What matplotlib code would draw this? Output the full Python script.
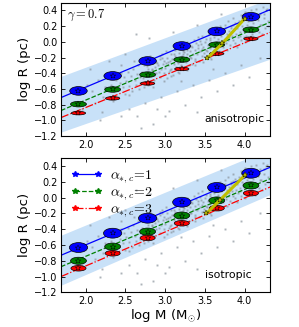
import matplotlib
matplotlib.use("Agg")
import matplotlib.pyplot as plt
from matplotlib.patches import Ellipse

plt.rcParams['mathtext.fontset'] = 'cm'
plt.rcParams['xtick.direction'] = 'in'
plt.rcParams['ytick.direction'] = 'in'
plt.rcParams['xtick.top'] = True
plt.rcParams['ytick.right'] = True

# cluster mass bins (log M) and model radii
mass = [1.91, 2.34, 2.78, 3.21, 3.65, 4.08]

aniso_r1 = [-0.625, -0.434, -0.244, -0.053, 0.133, 0.32]
aniso_r2 = [-0.794, -0.607, -0.417, -0.226, -0.036, 0.155]
aniso_r3 = [-0.908, -0.72, -0.53, -0.345, -0.15, 0.04]

iso_r1 = [-0.632, -0.45, -0.26, -0.057, 0.13, 0.31]
iso_r2 = [-0.80, -0.62, -0.43, -0.226, -0.035, 0.155]
iso_r3 = [-0.895, -0.705, -0.51, -0.324, -0.133, 0.057]

# ellipse sizes (width in log M, height in log R)
aniso_size = [(0.22, 0.11), (0.20, 0.07), (0.18, 0.045)]
iso_size = [(0.23, 0.125), (0.20, 0.09), (0.19, 0.07)]

# fitted relations (end points)
fit_x = [1.69, 4.32]
aniso_fit1 = [-0.71, 0.41]
aniso_fit2 = [-0.875, 0.25]
aniso_fit3 = [-0.965, 0.12]
iso_fit1 = [-0.73, 0.385]
iso_fit2 = [-0.875, 0.24]
iso_fit3 = [-1.0, 0.135]

# observed band
aniso_band_lo = [-1.15, -0.22]
aniso_band_hi = [-0.44, 0.55]
iso_band_lo = [-1.11, 0.04]
iso_band_hi = [-0.476, 0.62]

# evolution track (yellow)
aniso_track_x = [3.53, 3.72, 4.0]
aniso_track_y = [-0.21, -0.02, 0.295]
iso_track_x = [3.52, 3.69, 4.01]
iso_track_y = [-0.20, -0.03, 0.29]

# catalogue clusters
pts_x = [2.02, 2.08, 2.15, 2.22, 2.25, 2.12, 2.28, 1.95, 2.18, 2.05,
         2.32, 2.36, 2.38, 2.41, 2.43, 2.45, 2.47, 2.49, 2.34, 2.44, 2.48,
         2.51, 2.53, 2.55, 2.57, 2.58, 2.60, 2.62, 2.63, 2.65, 2.66, 2.68, 2.69, 2.54, 2.61, 2.67,
         2.71, 2.72, 2.74, 2.75, 2.76, 2.78, 2.79, 2.80, 2.82, 2.83, 2.84, 2.86, 2.87, 2.88, 2.89, 2.73, 2.81, 2.85,
         2.91, 2.92, 2.93, 2.94, 2.95, 2.96, 2.97, 2.98, 2.99, 3.00, 3.01, 3.02, 3.03, 3.04, 3.05, 3.06, 3.07, 3.08, 3.09, 3.10,
         3.11, 3.12, 3.13, 3.14, 3.15, 3.16, 3.17, 3.18, 3.19, 3.20, 3.21, 3.22, 3.23, 3.24, 3.25, 3.26, 3.27, 3.28, 3.29, 3.30,
         3.31, 3.32, 3.33, 3.34, 3.35, 3.36, 3.37, 3.38, 3.39, 3.40, 3.41, 3.42, 3.43, 3.44, 3.45, 3.46, 3.47, 3.48, 3.49, 3.50,
         3.51, 3.52, 3.53, 3.54, 3.55, 3.56, 3.57, 3.58, 3.59, 3.60, 3.61, 3.62, 3.63, 3.64, 3.65, 3.66, 3.67, 3.68, 3.69, 3.70,
         3.71, 3.72, 3.73, 3.74, 3.75, 3.76, 3.77, 3.78, 3.79, 3.80, 3.81, 3.82, 3.83, 3.84, 3.85, 3.86, 3.87, 3.88, 3.89,
         3.91, 3.92, 3.93, 3.94, 3.95, 3.96, 3.97, 3.98, 3.99, 4.00, 4.02, 4.03, 4.05, 4.06, 4.08, 4.09,
         4.11, 4.12, 4.14, 4.15, 4.17, 4.18, 4.20, 4.21, 4.23, 4.24, 4.26, 4.27, 4.29,
         2.55, 2.65, 2.75, 2.85, 2.95, 3.05, 3.15, 3.25, 3.35, 3.45, 3.55, 3.65, 3.75, 3.85, 3.95, 4.05, 4.20,
         3.00, 2.90, 3.40, 2.70, 3.60, 2.45, 3.20,
         2.50, 2.80, 3.10, 3.40, 3.70, 2.30, 2.64, 2.20,
         2.96, 3.04, 3.13, 3.22, 3.31, 3.42, 3.53, 3.62, 3.74, 3.83, 3.94, 4.04, 4.16, 4.25,
         2.86, 2.98, 3.08, 3.18, 3.28, 3.38, 3.48, 3.58, 3.68, 3.78, 3.90, 4.01, 4.13, 4.22,
         2.77, 2.90, 3.01, 3.11, 3.24, 3.34, 3.44, 3.56, 3.66, 3.76, 3.86, 3.97, 4.07, 4.18, 4.28,
         2.83, 2.94, 3.06, 3.16, 3.27, 3.37, 3.47, 3.57, 3.67, 3.79, 3.88, 3.99, 4.10, 4.19, 4.30]
pts_y = [-0.55, -0.62, -0.48, -0.70, -0.58, -0.78, -0.42, -0.85, -1.00, -0.35,
         -0.55, -0.62, -0.48, -0.70, -0.52, -0.40, -0.58, -0.66, -0.75, -0.30, -0.45,
         -0.50, -0.38, -0.56, -0.44, -0.62, -0.35, -0.48, -0.55, -0.41, -0.30, -0.52, -0.45, -0.68, -0.25, -0.60,
         -0.38, -0.46, -0.30, -0.52, -0.40, -0.34, -0.55, -0.28, -0.44, -0.36, -0.22, -0.48, -0.32, -0.40, -0.26, -0.58, -0.18, -0.58,
         -0.30, -0.38, -0.22, -0.45, -0.34, -0.16, -0.28, -0.40, -0.24, -0.33, -0.12, -0.46, -0.20, -0.30, -0.38, -0.25, -0.15, -0.35, -0.22, -0.42,
         -0.28, -0.18, -0.10, -0.32, -0.24, -0.38, -0.14, -0.22, -0.05, -0.30, -0.18, -0.12, -0.35, -0.20, -0.08, -0.26, -0.15, 0.00, -0.22, -0.30,
         -0.12, -0.20, -0.05, -0.28, -0.15, 0.02, -0.10, -0.22, -0.02, -0.16, -0.08, 0.06, -0.25, -0.12, -0.03, -0.18, 0.08, -0.06, -0.14, 0.00,
         -0.10, 0.04, -0.18, -0.04, 0.10, -0.08, 0.02, -0.14, 0.14, -0.02, 0.06, -0.10, 0.18, 0.00, -0.06, 0.10, 0.04, -0.12, 0.20, 0.08,
         0.00, 0.12, -0.06, 0.16, 0.04, 0.22, -0.02, 0.10, 0.26, 0.06, 0.14, -0.04, 0.20, 0.08, 0.30, 0.02, 0.16, 0.24, 0.10,
         0.18, 0.06, 0.26, 0.12, 0.34, 0.02, 0.20, 0.28, 0.14, 0.38, 0.08, 0.22, 0.30, 0.16, 0.40, 0.10,
         0.24, 0.34, 0.18, 0.42, 0.28, 0.12, 0.36, 0.22, 0.44, 0.30, 0.18, 0.40, 0.26,
         -0.85, -0.95, -0.78, -1.05, -0.70, -0.88, -0.62, -0.80, -0.55, -0.70, -0.48, -0.62, -0.40, -0.55, -0.30, -0.45, -0.20,
         -0.95, -0.85, -0.90, -1.10, -0.35, -0.95, -0.50,
         -0.15, 0.05, 0.12, 0.22, 0.35, -0.25, 0.10, -0.90,
         -0.20, -0.26, -0.08, -0.15, -0.19, -0.04, -0.12, 0.12, 0.02, 0.18, 0.08, 0.26, 0.15, 0.36,
         -0.42, -0.50, -0.44, -0.40, -0.36, -0.30, -0.26, -0.22, -0.16, -0.10, -0.06, 0.00, 0.04, 0.10,
         -0.31, -0.27, -0.27, -0.16, -0.13, -0.07, 0.01, 0.05, 0.14, 0.18, 0.21, 0.31, 0.35, 0.33, 0.42,
         -0.34, -0.18, -0.36, -0.27, -0.11, -0.24, -0.09, -0.19, -0.03, 0.02, -0.01, 0.06, 0.14, 0.22, 0.20]

panels = [
    ("anisotropic", aniso_r1, aniso_r2, aniso_r3, aniso_size,
     aniso_fit1, aniso_fit2, aniso_fit3, aniso_band_lo, aniso_band_hi,
     aniso_track_x, aniso_track_y),
    ("isotropic", iso_r1, iso_r2, iso_r3, iso_size,
     iso_fit1, iso_fit2, iso_fit3, iso_band_lo, iso_band_hi,
     iso_track_x, iso_track_y),
]

fig = plt.figure(figsize=(2.99, 3.27), dpi=100)
ax_top = fig.add_axes([0.204, 0.584, 0.699, 0.408])
ax_bot = fig.add_axes([0.204, 0.106, 0.699, 0.410])

colors = ['#0000ff', '#008000', '#ff0000']
styles = ['-', '--', '-.']

for ax, p in zip([ax_top, ax_bot], panels):
    name, r1, r2, r3, sizes, f1, f2, f3, blo, bhi, tx, ty = p
    ax.fill_between(fit_x, blo, bhi, color='#c8e1f8', lw=0, zorder=0)
    ax.plot(pts_x, pts_y, 's', color='#8a939c', ms=1.4, mew=0, alpha=0.7, zorder=1)
    for k, fit in enumerate([f1, f2, f3]):
        ax.plot(fit_x, fit, styles[k], color=colors[k], lw=0.9, zorder=2)
    for k, radii in enumerate([r1, r2, r3]):
        w, h = sizes[k]
        for xm, yr in zip(mass, radii):
            ax.add_patch(Ellipse((xm, yr), w, h, facecolor=colors[k],
                                 edgecolor='k', lw=0.5, zorder=3))
        ax.plot(mass, radii, '*', color=colors[k], ms=4, mec='k', mew=0.3, zorder=4)
    ax.plot(tx, ty, '-', color='#bfbf00', lw=2.2, marker='*', ms=4,
            mfc='#bfbf00', mec='k', mew=0.3, zorder=5)
    ax.text(3.5, -0.98, name, fontsize=7.8, va='center', ha='left')
    ax.set_xlim(1.69, 4.32)
    ax.set_ylim(-1.2, 0.5)
    ax.set_xticks([2.0, 2.5, 3.0, 3.5, 4.0])
    ax.set_yticks([-1.2, -1.0, -0.8, -0.6, -0.4, -0.2, 0.0, 0.2, 0.4])
    ax.tick_params(labelsize=7, length=3, width=0.6, pad=2.5)
    ax.set_ylabel("log R (pc)", fontsize=9.5, labelpad=2)
    for s in ax.spines.values():
        s.set_linewidth(0.8)

ax_top.text(1.77, 0.34, r"$\gamma=0.7$", fontsize=9, va='center')

leg_lines = []
for k in range(3):
    ln, = ax_bot.plot([], [], styles[k], color=colors[k], lw=0.9, marker='*',
                      ms=4, mec=colors[k])
    leg_lines.append(ln)
ax_bot.legend(leg_lines, [r"$\alpha_{*,c}\!=\!1$", r"$\alpha_{*,c}\!=\!2$", r"$\alpha_{*,c}\!=\!3$"],
              loc='upper left', frameon=False, numpoints=2, fontsize=10,
              handlelength=2.3, labelspacing=0.0, borderaxespad=0.4,
              borderpad=0.3, handletextpad=0.5)

ax_bot.set_xlabel(r"log M (M$_{\odot}$)", fontsize=9.5, labelpad=1)

fig.savefig("out.png", dpi=100)
